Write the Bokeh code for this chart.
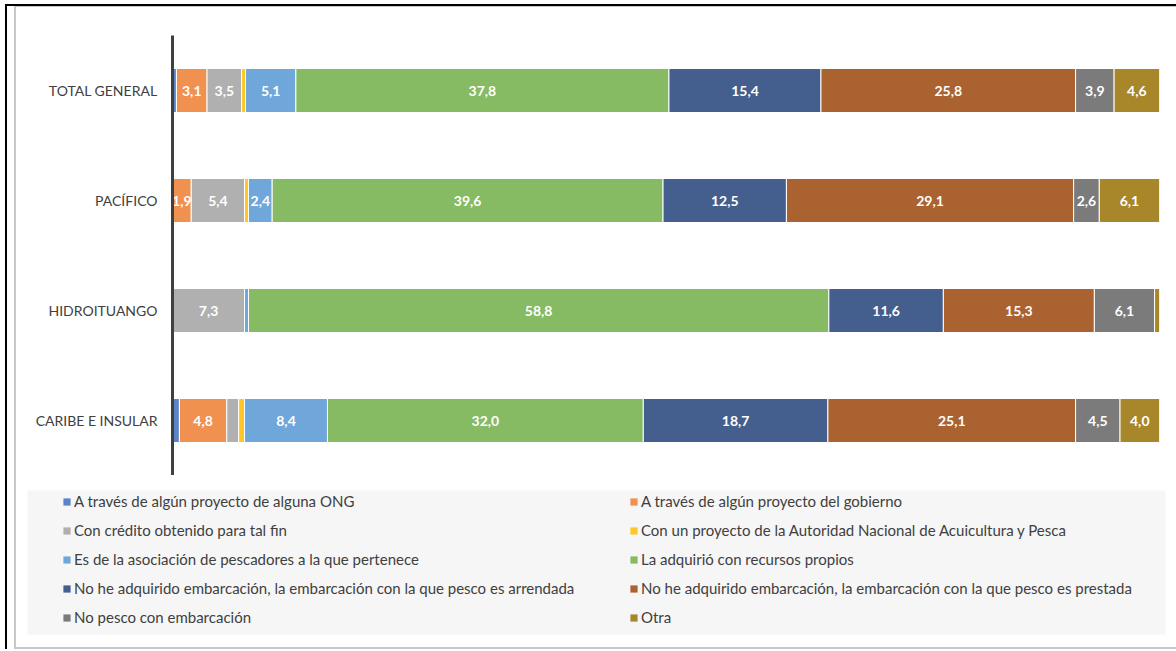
from bokeh.plotting import figure
from bokeh.layouts import column
from bokeh.models import ColumnDataSource, Legend, LegendItem, FactorRange
from bokeh.core.properties import value
from bokeh.embed import file_html
from bokeh.resources import INLINE

categories = ["TOTAL GENERAL", "PACÍFICO", "HIDROITUANGO", "CARIBE E INSULAR"]

series_names = [
    "A través de algún proyecto de alguna ONG",
    "A través de algún proyecto del gobierno",
    "Con crédito obtenido para tal fin",
    "Con un proyecto de la Autoridad Nacional de Acuicultura y Pesca",
    "Es de la asociación de pescadores a la que pertenece",
    "La adquirió con recursos propios",
    "No he adquirido embarcación, la embarcación con la que pesco es arrendada",
    "No he adquirido embarcación, la embarcación con la que pesco es prestada",
    "No pesco con embarcación",
    "Otra",
]

ong = [0.4, 0.0, 0.0, 0.7]
gobierno = [3.1, 1.9, 0.0, 4.8]
credito = [3.5, 5.4, 7.3, 1.2]
anap = [0.4, 0.4, 0.0, 0.6]
asociacion = [5.1, 2.4, 0.4, 8.4]
propios = [37.8, 39.6, 58.8, 32.0]
arrendada = [15.4, 12.5, 11.6, 18.7]
prestada = [25.8, 29.1, 15.3, 25.1]
no_pesco = [3.9, 2.6, 6.1, 4.5]
otra = [4.6, 6.1, 0.5, 4.0]

colors = ["#5A83C8", "#F0914F", "#B0B0B0", "#FFC628", "#70A7DA",
          "#86BA63", "#445E8D", "#AB6231", "#7B7B7B", "#A8862A"]

series_values = [ong, gobierno, credito, anap, asociacion, propios,
                 arrendada, prestada, no_pesco, otra]
keys = [f"s{i}" for i in range(len(series_values))]

data = {"cat": categories}
for k, v in zip(keys, series_values):
    data[k] = v
source = ColumnDataSource(data)

FONT = "Lato"

# ---------------- main chart ----------------
p = figure(
    width=1160, height=468,
    y_range=FactorRange(*list(reversed(categories)), range_padding=0),
    x_range=(0, 100),
    output_backend="svg", toolbar_location=None,
    min_border_left=156, min_border_right=17,
    min_border_top=28, min_border_bottom=0,
)
p.outline_line_color = None
p.xgrid.visible = False
p.ygrid.visible = False
p.xaxis.visible = False

renderers = p.hbar_stack(keys, y="cat", height=0.4, color=colors, source=source,
                         line_color="#FFFFFF", line_width=1)

lx, ly, lt = [], [], []
for ci, cat in enumerate(categories):
    cum = 0.0
    for vals in series_values:
        v = vals[ci]
        if v >= 1.5:
            lx.append(cum + v / 2)
            ly.append(cat)
            lt.append(f"{v:.1f}".replace(".", ","))
        cum += v
lsrc = ColumnDataSource(dict(x=lx, y=ly, t=lt))
p.text(x="x", y="y", text="t", source=lsrc, text_align="center", text_baseline="middle",
       text_color="white", text_font=value(FONT), text_font_style="bold",
       text_font_size="14px")

yax = p.yaxis[0]
yax.axis_line_width = 3
yax.axis_line_color = "#404040"
yax.major_tick_line_color = None
yax.minor_tick_line_color = None
yax.major_label_standoff = 9
yax.major_label_text_font = FONT
yax.major_label_text_font_size = "14px"
yax.major_label_text_color = "#404040"

# ---------------- legend panel ----------------
lp = figure(width=1160, height=172, x_range=(0, 1), y_range=(0, 1),
            output_backend="svg", toolbar_location=None,
            min_border_left=11, min_border_right=11,
            min_border_top=15, min_border_bottom=13)
lp.outline_line_color = None
lp.background_fill_color = "#F6F6F6"
lp.xaxis.visible = False
lp.yaxis.visible = False
lp.xgrid.visible = False
lp.ygrid.visible = False

for fig in (p, lp):
    try:
        fig.frame_align = False
    except Exception:
        pass

# legend swatches only (zero-size glyphs)
dummy = []
for c in colors:
    dummy.append(lp.hbar(y=[0], left=[0], right=[0], height=0,
                         fill_color=c, line_color=None))

def make_legend(idx, x):
    items = [LegendItem(label=series_names[i], renderers=[dummy[i]]) for i in idx]
    return Legend(items=items, location=(x, 7), orientation="vertical",
                  glyph_width=9, glyph_height=9, label_standoff=3,
                  label_height=20, spacing=9, padding=0, margin=0,
                  border_line_color=None, background_fill_alpha=0,
                  label_text_font=FONT, label_text_font_size="15px",
                  label_text_color="#404040")

lp.add_layout(make_legend([0, 2, 4, 6, 8], 35))
lp.add_layout(make_legend([1, 3, 5, 7, 9], 602))

inner = column(p, column(lp), spacing=0,
               styles={"margin-left": "7px",
                       "border-left": "2px solid #C8C8C8",
                       "border-top": "1px solid #C8C8C8",
                       "border-bottom": "2px solid #C8C8C8"})
outer = column(inner, spacing=0,
               styles={"margin-left": "5px", "margin-top": "4px",
                       "border-left": "2px solid #000000",
                       "border-top": "2px solid #000000"})

open("out.html", "w").write(file_html(outer, INLINE))
